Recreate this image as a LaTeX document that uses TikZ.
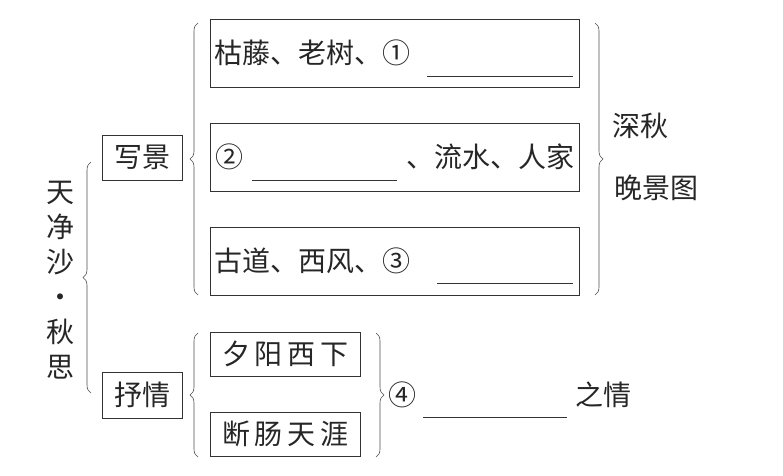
\documentclass[tikz,border=0pt]{standalone}
\usepackage{fontspec}
\setmainfont{Noto Sans CJK SC}
\usetikzlibrary{decorations.pathreplacing}

\tikzset{
  box/.style={draw=black!80, line width=0.8pt, inner sep=0pt},
  brc/.style={draw=black!70, line width=0.6pt, decorate, decoration={brace, amplitude=8pt}},
  txt/.style={font=\fontsize{28}{35}\selectfont, inner sep=0pt, text=black!85},
  blank/.style={draw=black!80, line width=0.8pt}
}

\begin{document}
\begin{tikzpicture}[x=1pt,y=-1pt]
\useasboundingbox (0,0) rectangle (783,475);

% Define coordinates
\coordinate (A) at (91,393);
\coordinate (A') at (91,162);
\coordinate (B) at (198,295);
\coordinate (B') at (198,23);
\coordinate (C) at (595,23);
\coordinate (C') at (595,295);
\coordinate (D) at (198,457);
\coordinate (D') at (198,333);
\coordinate (E) at (376,333);
\coordinate (E') at (376,457);

% Draw the boxes
\node[box, minimum width=80pt, minimum height=45pt] (xiejing) at (142,157.5) {};
\node[box, minimum width=80pt, minimum height=46pt] (shuqing) at (142,395) {};
\node[box, minimum width=369pt, minimum height=68pt] (scene1) at (394.5,53) {};
\node[box, minimum width=369pt, minimum height=68pt] (scene2) at (394.5,157) {};
\node[box, minimum width=369pt, minimum height=68pt] (scene3) at (394.5,261) {};
\node[box, minimum width=150pt, minimum height=44pt] (sunset) at (285,354) {};
\node[box, minimum width=150pt, minimum height=44pt] (heart) at (285,434) {};

% Draw the braces
\draw[brc] (A) -- (A'); % Title brace
\draw[brc] (B) -- (B'); % Scene brace (left)
\draw[brc] (C) -- (C'); % Scene brace (right)
\draw[brc] (D) -- (D'); % Feeling brace (left)
\draw[brc] (E) -- (E'); % Feeling brace (right)

% Draw the blanks
\coordinate (L1) at (427,76);  \coordinate (L1') at (573,76);
\coordinate (L2) at (252,180); \coordinate (L2') at (397,180);
\coordinate (L3) at (437,283); \coordinate (L3') at (573,283);
\coordinate (L4) at (423,417); \coordinate (L4') at (567,417);
\draw[blank] (L1) -- (L1');
\draw[blank] (L2) -- (L2');
\draw[blank] (L3) -- (L3');
\draw[blank] (L4) -- (L4');

% Add labels
\node[txt, align=center] (title) at (60,280) {天\\净\\沙\\·\\秋\\思};
\node[txt] at (xiejing) {写景};
\node[txt] at (shuqing) {抒情};
\node[txt, anchor=west] (s1) at ([xshift=5pt]scene1.west) {枯藤、老树、①};
\node[txt, anchor=west] (s2a) at ([xshift=6pt]scene2.west) {②};
\node[txt, anchor=east] (s2b) at ([xshift=-5pt]scene2.east) {、流水、人家};
\node[txt, anchor=west] (s3) at ([xshift=5pt]scene3.west) {古道、西风、③};
\node[txt] (autumn) at (640,126) {深秋};
\node[txt] (view) at (656,188) {晚景图};
\node[txt] at (sunset) {夕\,阳\,西\,下};
\node[txt] at (heart) {断\,肠\,天\,涯};
\node[txt] (four) at (402,395) {④};
\node[txt] (feel) at (603,395) {之情};

\end{tikzpicture}
\end{document}
